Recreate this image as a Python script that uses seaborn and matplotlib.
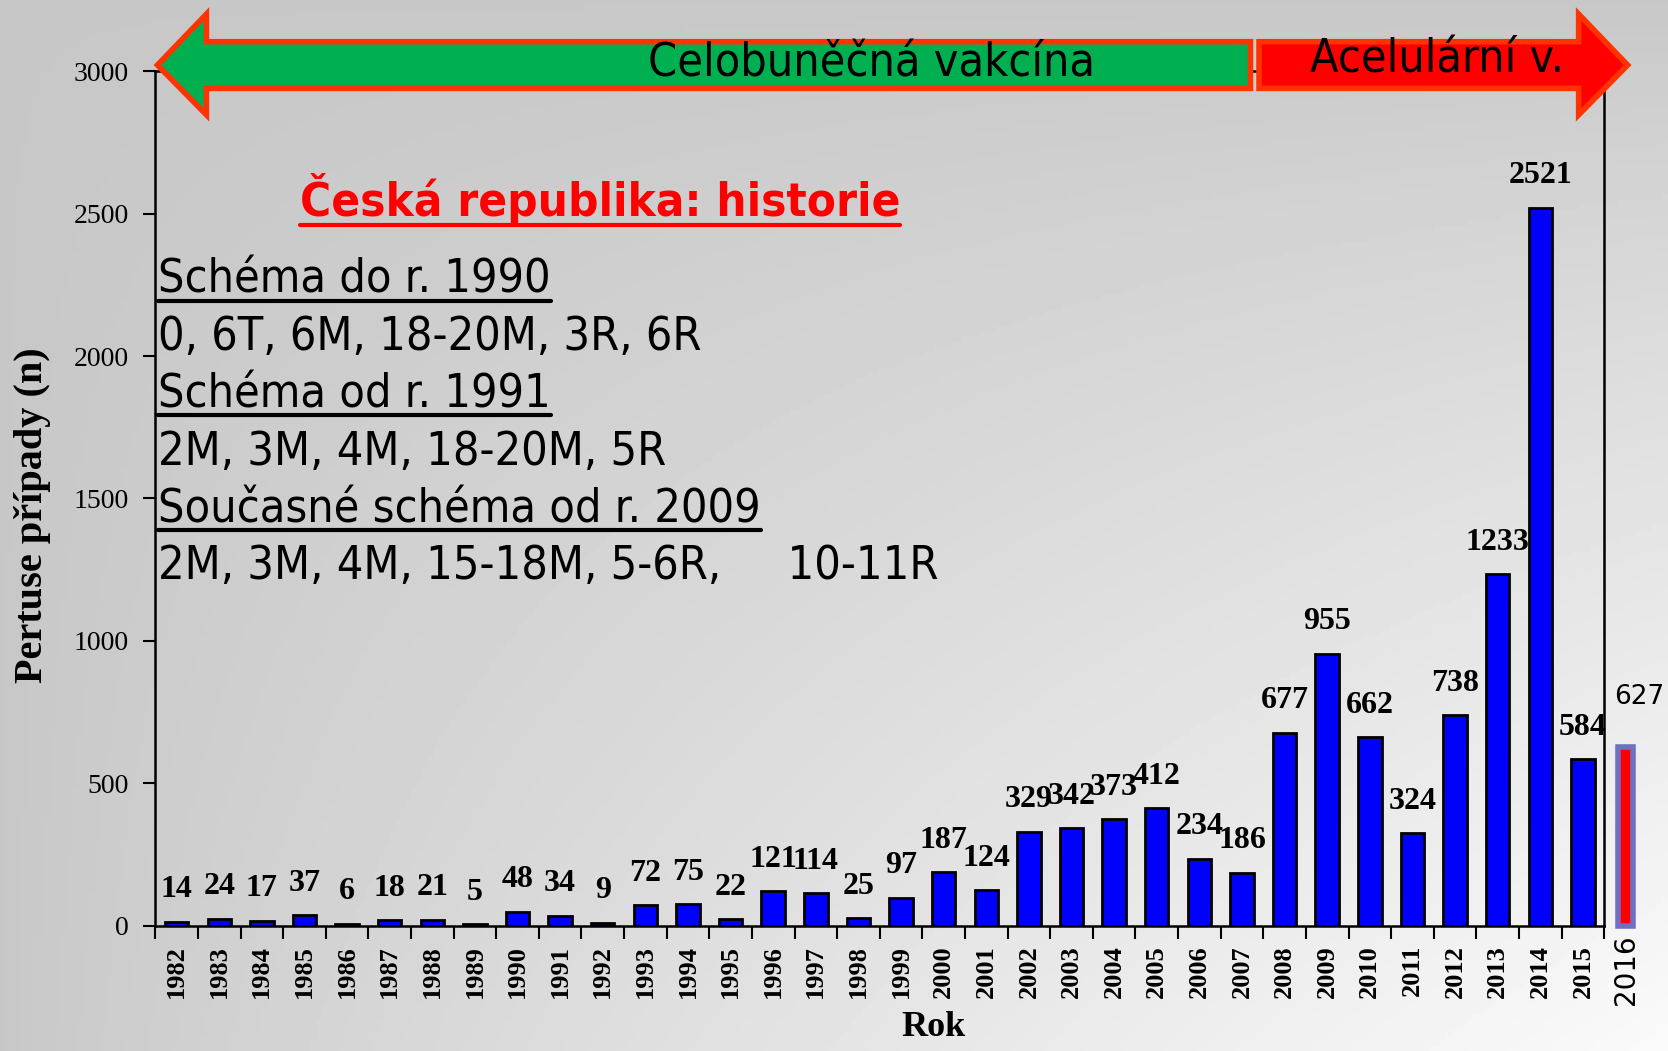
import numpy as np
import pandas as pd
import matplotlib.pyplot as plt
import seaborn as sns
from matplotlib.patches import Polygon

years = [str(y) for y in range(1982, 2016)]
cases = [14, 24, 17, 37, 6, 18, 21, 5, 48, 34, 9, 72, 75, 22, 121, 114, 25, 97,
         187, 124, 329, 342, 373, 412, 234, 186, 677, 955, 662, 324, 738, 1233, 2521, 584]
extra_year = "2016"
extra_cases = 627
y_ticks = [0, 500, 1000, 1500, 2000, 2500, 3000]
title = "Česká republika: historie"
schema_lines = [
    ("Schéma do r. 1990", True),
    ("0, 6T, 6M, 18-20M, 3R, 6R", False),
    ("Schéma od r. 1991", True),
    ("2M, 3M, 4M, 18-20M, 5R", False),
    ("Současné schéma od r. 2009", True),
    ("2M, 3M, 4M, 15-18M, 5-6R,   10-11R", False),
]
whole_cell = "Celobuněčná vakcína"
acellular = "Acelulární v."

df = pd.DataFrame({"rok": years, "pripady": cases})

sns.set_style("ticks")
plt.rcParams['font.family'] = ['DejaVu Sans']
plt.rcParams['text.color'] = 'black'
plt.rcParams['axes.labelcolor'] = 'black'
plt.rcParams['xtick.color'] = 'black'
plt.rcParams['ytick.color'] = 'black'
serif = ['Liberation Serif', 'DejaVu Serif']
sans = ['DejaVu Sans']

W, H = 1668, 1051
fig = plt.figure(figsize=(W / 100, H / 100), dpi=100)

# gray background, lighter to the bottom right
bg = fig.add_axes([0, 0, 1, 1], zorder=-10)
gx, gy = np.meshgrid(np.linspace(0, 1, 300), np.linspace(0, 1, 200))
val = 0.78 + 0.2 * (gx * gy) ** 0.8
bg.imshow(val, cmap='gray', vmin=0, vmax=1, aspect='auto', extent=[0, 1, 1, 0])
bg.axis('off')

ax = fig.add_axes([155.3 / W, (H - 925.5) / H, (1604.2 - 155.3) / W, (925.5 - 71.3) / H])
ax.patch.set_alpha(0)
sns.barplot(data=df, x="rok", y="pripady", color="#0000ff", saturation=1,
            edgecolor="black", linewidth=2, width=0.55, ax=ax)
ax.set_xlim(-0.5, len(years) - 0.5)
ax.set_ylim(0, 3000)
ax.set_yticks(y_ticks)
ax.set_yticklabels([str(t) for t in y_ticks], family=serif, fontsize=20)
ax.set_xticks(np.arange(len(years) + 1) - 0.5, minor=False)
ax.set_xticklabels([])
ax.set_xticks(np.arange(len(years)), minor=True)
ax.set_xticklabels(years, minor=True, rotation=90, family=serif, fontsize=19, fontweight='bold')
ax.tick_params(axis='x', which='minor', length=0, pad=14)
ax.tick_params(axis='x', which='major', length=9, width=1.5)
ax.tick_params(axis='y', length=9, width=1.5, pad=10)
for s in ax.spines.values():
    s.set_linewidth(1.8)
    s.set_color('black')
ax.set_xlabel("Rok", family=serif, fontsize=26, fontweight='bold')
ax.xaxis.set_label_coords(0.537, -0.1)
ax.set_ylabel("Pertuse případy (n)", family=serif, fontsize=29, fontweight='bold')
ax.yaxis.set_label_coords(-0.072, 0.48)

for i, v in enumerate(cases):
    ax.annotate(str(v), (i, v), xytext=(0, 23), textcoords='offset points',
                ha='center', va='center', family=serif, fontsize=23, fontweight='bold')

# 2016 bar sits outside the frame
xi = len(years)
ax.bar(xi, extra_cases, width=0.35, color='#ff0000', edgecolor='#7070c0', linewidth=4,
       clip_on=False, zorder=3)
ax.annotate(str(extra_cases), (xi, extra_cases), xytext=(10, 36), textcoords='offset points',
            ha='center', va='center', family=sans, fontsize=19, annotation_clip=False)
ax.text(xi, -30, extra_year, rotation=90, ha='center', va='top', family=sans, fontsize=20,
        clip_on=False)

# vaccine arrows
def arrow(x0, x1, head_at, fc):
    yb0, yb1, yh0, yh1, ytip = 2940, 3104, 2847, 3201, 3022
    hl = 1.15
    if head_at == 'left':
        pts = [(x0, ytip), (x0 + hl, yh1), (x0 + hl, yb1), (x1, yb1), (x1, yb0),
               (x0 + hl, yb0), (x0 + hl, yh0)]
    else:
        pts = [(x1, ytip), (x1 - hl, yh1), (x1 - hl, yb1), (x0, yb1), (x0, yb0),
               (x1 - hl, yb0), (x1 - hl, yh0)]
    ax.add_patch(Polygon(pts, closed=True, fc=fc, ec='#ff3300', lw=4, clip_on=False, zorder=5))

arrow(-0.45, 25.2, 'left', '#00b050')
arrow(25.4, 34.05, 'right', '#ff0000')
ax.text(16.3, 3025, whole_cell, ha='center', va='center', fontsize=33.5, family=sans, zorder=6,
        fontstretch='condensed')
ax.text(29.58, 3040, acellular, ha='center', va='center', fontsize=33.5, family=sans, zorder=6,
        fontstretch='condensed')

# text block
texts = []
t = fig.text(300 / W, 1 - 200 / H, title, color='#ff0000', fontsize=34, fontweight='bold',
             family=sans, va='center', ha='left', fontstretch='condensed')
texts.append(t)
y0 = 280
for k, (line, ul) in enumerate(schema_lines):
    t = fig.text(158 / W, 1 - (y0 + k * 57.4) / H, line.replace(",   ", ",     "),
                 fontsize=33.5, family=sans, va='center', ha='left', fontstretch='condensed')
    if ul:
        texts.append(t)

fig.canvas.draw()
r = fig.canvas.get_renderer()
for t in texts:
    bb = t.get_window_extent(r)
    c = t.get_color()
    fig.add_artist(plt.Line2D([bb.x0 / W, bb.x1 / W], [(bb.y0 + 2) / H] * 2, color=c, lw=3,
                              transform=fig.transFigure))

fig.savefig("out.png", dpi=100)
